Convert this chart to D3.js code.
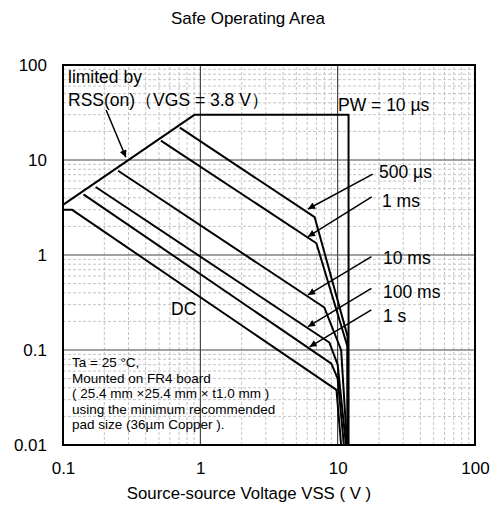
<!DOCTYPE html>
<html>
<head>
<meta charset="utf-8">
<script src="https://cdn.jsdelivr.net/npm/d3@7"></script>
<style>
body { margin: 0; background: #fff; }
svg { font-family: "Liberation Sans", Arial, sans-serif; }
</style>
</head>
<body>
<svg width="495" height="508"></svg>
<script>
// axis ticks
var xTicks = [0.1, 1, 10, 100];
var xTickLabels = ["0.1", "1", "10", "100"];
var yTicks = [0.01, 0.1, 1, 10, 100];
var yTickLabels = ["0.01", "0.1", "1", "10", "100"];

// SOA curves, VSS (V) / IS (A)
var seriesNames = ["10 µs", "500 µs", "1 ms", "10 ms", "100 ms", "1 s", "DC"];
var pw10usV = [0.1, 0.91, 12, 12];
var pw10usI = [3.37, 30, 30, 0.01];
var pw500usV = [0.71, 6.8, 11.8, 11.8];
var pw500usI = [21.9, 2.5, 0.14, 0.01];
var pw1msV = [0.516, 7.0, 11.8, 11.8];
var pw1msI = [16, 1.33, 0.108, 0.01];
var pw10msV = [0.252, 8.0, 10.6, 11.7];
var pw10msI = [7.7, 0.28, 0.1, 0.01];
var pw100msV = [0.173, 8.7, 10.0, 11.5];
var pw100msI = [5.2, 0.12, 0.07, 0.01];
var pw1sV = [0.141, 9.0, 10.0, 11.1];
var pw1sI = [4.35, 0.072, 0.05, 0.01];
var dcV = [0.1, 0.116, 9.8, 10.6];
var dcI = [3.0, 3.0, 0.038, 0.01];

// annotation arrows: start -> tip (V, A)
var arrowFromV = [0.206, 18.0, 17.7, 17.6, 17.6, 17.6];
var arrowFromI = [33.6, 7.1, 4.08, 0.96, 0.445, 0.264];
var arrowToV = [0.287, 6.08, 6.08, 6.08, 6.08, 6.25];
var arrowToI = [10.7, 3.05, 1.56, 0.38, 0.176, 0.108];

var svg = d3.select("svg");

var x = d3.scaleLog().domain([0.1, 100]).range([63, 475]);
var y = d3.scaleLog().domain([0.01, 100]).range([445, 65]);

// title
svg.append("text")
    .attr("x", 248).attr("y", 24)
    .attr("text-anchor", "middle")
    .style("font-size", "17px")
    .text("Safe Operating Area");

// minor grid (dashed)
var minorX = [], minorY = [];
[0.1, 1, 10].forEach(function(d) {
    for (var k = 2; k <= 9; k++) minorX.push(d * k);
});
[0.01, 0.1, 1, 10].forEach(function(d) {
    for (var k = 2; k <= 9; k++) minorY.push(d * k);
});

var grid = svg.append("g");
grid.selectAll(".mx").data(minorX).enter().append("line")
    .attr("x1", d => x(d)).attr("x2", d => x(d))
    .attr("y1", y(0.01)).attr("y2", y(100))
    .attr("stroke", "#c4c4c4").attr("stroke-dasharray", "3,2");
grid.selectAll(".my").data(minorY).enter().append("line")
    .attr("y1", d => y(d)).attr("y2", d => y(d))
    .attr("x1", x(0.1)).attr("x2", x(100))
    .attr("stroke", "#c4c4c4").attr("stroke-dasharray", "3,2");

// decade lines
grid.selectAll(".dx").data(xTicks.slice(1, -1)).enter().append("line")
    .attr("x1", d => x(d)).attr("x2", d => x(d))
    .attr("y1", y(0.01)).attr("y2", y(100))
    .attr("stroke", "#222").attr("stroke-width", 1);
grid.selectAll(".dy").data(yTicks.slice(1, -1)).enter().append("line")
    .attr("y1", d => y(d)).attr("y2", d => y(d))
    .attr("x1", x(0.1)).attr("x2", x(100))
    .attr("stroke", "#444").attr("stroke-width", 1);

// axes (labels only)
var xAxis = svg.append("g")
    .attr("transform", "translate(0," + y(0.01) + ")")
    .call(d3.axisBottom(x).tickValues(xTicks).tickSize(0).tickPadding(17)
        .tickFormat((d, i) => xTickLabels[i]));
var yAxis = svg.append("g")
    .attr("transform", "translate(" + x(0.1) + ",0)")
    .call(d3.axisLeft(y).tickValues(yTicks).tickSize(0).tickPadding(16)
        .tickFormat((d, i) => yTickLabels[i]));
[xAxis, yAxis].forEach(function(a) {
    a.select(".domain").remove();
    a.selectAll("text")
        .style("font-size", "17px")
        .style("font-family", "'Liberation Sans', Arial, sans-serif")
        .attr("fill", "#000");
});

svg.append("text")
    .attr("x", 249).attr("y", 499)
    .attr("text-anchor", "middle")
    .style("font-size", "16.8px")
    .text("Source-source Voltage VSS ( V )");

// curves
var curves = [
    [pw10usV, pw10usI], [pw500usV, pw500usI], [pw1msV, pw1msI],
    [pw10msV, pw10msI], [pw100msV, pw100msI], [pw1sV, pw1sI], [dcV, dcI]
];
var line = d3.line().x(d => x(d[0])).y(d => y(d[1]));

svg.append("g").selectAll("path")
    .data(curves.map(c => c[0].map((v, i) => [v, c[1][i]])))
    .enter().append("path")
    .attr("d", line)
    .attr("fill", "none")
    .attr("stroke", "#000")
    .attr("stroke-width", 2)
    .attr("stroke-linejoin", "round");

// arrowhead
svg.append("defs").append("marker")
    .attr("id", "ah")
    .attr("viewBox", "0 0 10 10")
    .attr("refX", 10).attr("refY", 5)
    .attr("markerWidth", 10).attr("markerHeight", 7)
    .attr("markerUnits", "userSpaceOnUse")
    .attr("orient", "auto")
    .append("path").attr("d", "M0,0L10,5L0,10z").attr("fill", "#000");

svg.append("g").selectAll("line")
    .data(arrowFromV.map((v, i) => i))
    .enter().append("line")
    .attr("x1", i => x(arrowFromV[i])).attr("y1", i => y(arrowFromI[i]))
    .attr("x2", i => x(arrowToV[i])).attr("y2", i => y(arrowToI[i]))
    .attr("stroke", "#000").attr("stroke-width", 1.5)
    .attr("marker-end", "url(#ah)");

// frame
svg.append("rect")
    .attr("x", x(0.1)).attr("y", y(100))
    .attr("width", x(100) - x(0.1)).attr("height", y(0.01) - y(100))
    .attr("fill", "none").attr("stroke", "#000").attr("stroke-width", 2);

// labels
var labels = [
    {t: "limited by", x: 68, y: 83},
    {t: "RSS(on)（VGS = 3.8 V）", x: 68, y: 106},
    {t: "PW = 10 µs", x: 338, y: 111},
    {t: "500 µs", x: 379, y: 178},
    {t: "1 ms", x: 382, y: 207},
    {t: "10 ms", x: 383, y: 264},
    {t: "100 ms", x: 383, y: 298},
    {t: "1 s", x: 383, y: 322},
    {t: "DC", x: 171, y: 315}
];
svg.append("g").selectAll("text")
    .data(labels).enter().append("text")
    .attr("x", d => d.x).attr("y", d => d.y)
    .style("font-size", "17.5px")
    .text(d => d.t);

var note = [
    "Ta = 25 °C,",
    "Mounted on FR4 board",
    "( 25.4 mm ×25.4 mm × t1.0 mm )",
    "using the minimum recommended",
    "pad size (36µm Copper )."
];
svg.append("g").selectAll("text")
    .data(note).enter().append("text")
    .attr("x", 72).attr("y", (d, i) => 367 + i * 15.6)
    .style("font-size", "13.5px")
    .text(d => d);
</script>
</body>
</html>
